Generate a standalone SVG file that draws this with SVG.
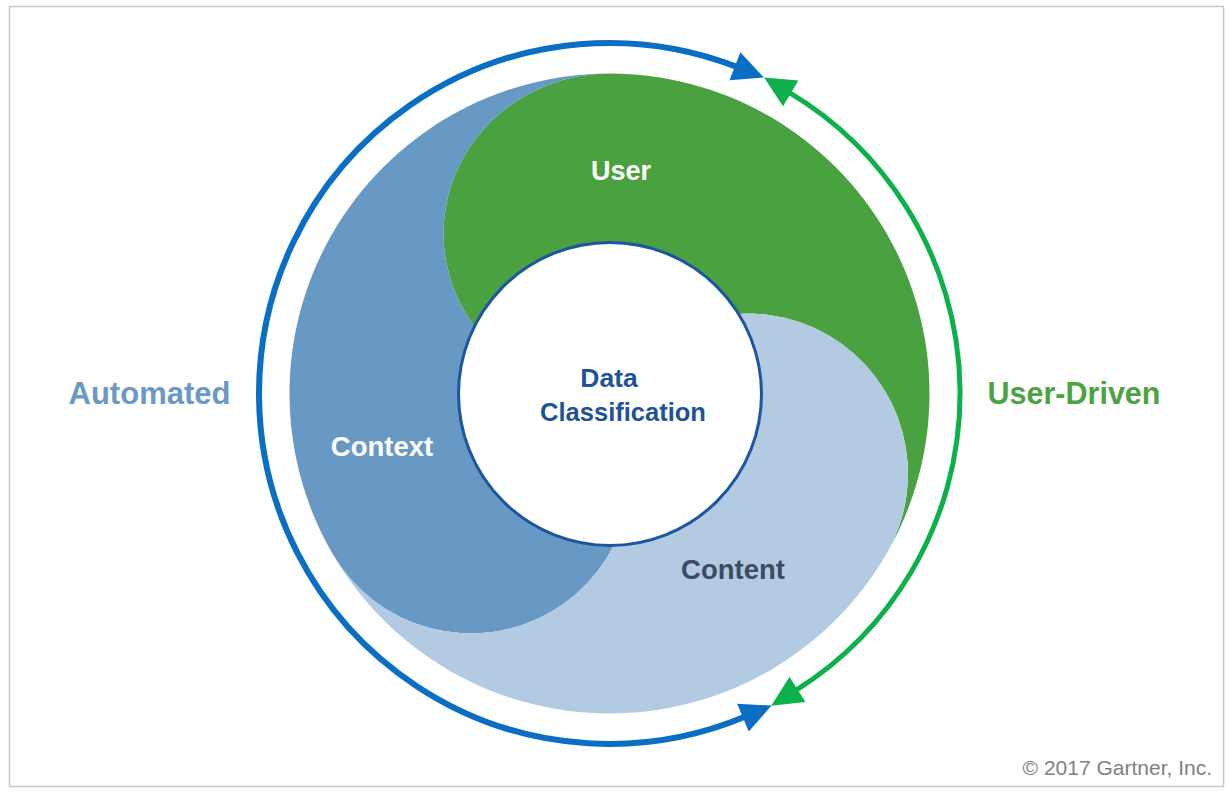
<svg xmlns="http://www.w3.org/2000/svg" width="1230" height="794" viewBox="0 0 1230 794">
<style>
.lbl{font-family:"Liberation Sans",Arial,sans-serif;font-weight:bold;text-anchor:middle}
.w{fill:#ffffff}
</style>
<defs>
<marker id="ahB" markerUnits="userSpaceOnUse" markerWidth="34" markerHeight="34" viewBox="-3 -17 34 34" refX="0" refY="0" orient="auto-start-reverse">
<path d="M-2,-15 L29,0 L-2,15 Z" fill="#0A6EC4"/>
</marker>
<marker id="ahG" markerUnits="userSpaceOnUse" markerWidth="34" markerHeight="34" viewBox="-3 -17 34 34" refX="0" refY="0" orient="auto-start-reverse">
<path d="M-2,-15 L29,0 L-2,15 Z" fill="#0DB14B"/>
</marker>
</defs>
<rect x="0" y="0" width="1230" height="794" fill="#ffffff"/>
<rect x="9.5" y="6.5" width="1214" height="780" fill="none" stroke="#c9c9c9" stroke-width="1.5"/>

<g id="node-user">
<path d="M609.5,73.5 A320,320 0 0 1 886.628,553.5 A160,160 0 0 0 609.5,393.5 A166,160 0 0 1 609.5,73.5 Z" fill="#4AA140"/>
</g>
<g id="node-context">
<path d="M332.372,553.5 A320,320 0 0 1 609.5,73.5 A166,160 0 0 0 609.5,393.5 A160,160 0 0 1 332.372,553.5 Z" fill="#6898C4"/>
</g>
<g id="node-content">
<path d="M886.628,553.5 A320,320 0 0 1 332.372,553.5 A160,160 0 0 0 609.5,393.5 A160,160 0 0 1 886.628,553.5 Z" fill="#B3CBE2"/>
</g>
<g id="node-center">
<circle cx="610" cy="394" r="151.5" fill="#ffffff" stroke="#1C55A0" stroke-width="3"/>
<text class="lbl" x="609" y="387" font-size="26.5" fill="#1F5397">Data</text>
<text class="lbl" x="623" y="421" font-size="25.5" fill="#1F5397">Classification</text>
</g>

<g id="connectors" fill="none">
<path d="M736.8,66.9 A350.5,350.5 0 1 0 744.8,716.8" stroke="#0A6EC4" stroke-width="6" marker-start="url(#ahB)" marker-end="url(#ahB)"/>
<path d="M789,92.4 A350.5,350.5 0 0 1 795.8,690.4" stroke="#0DB14B" stroke-width="5" marker-start="url(#ahG)" marker-end="url(#ahG)"/>
</g>

<g id="labels">
<text class="lbl w" x="621" y="180" font-size="27">User</text>
<text class="lbl w" x="382" y="456" font-size="27.5">Context</text>
<text class="lbl" x="733" y="579" font-size="27.5" fill="#3B4B61">Content</text>
<text class="lbl" x="149.5" y="404" font-size="31" fill="#6A99C6">Automated</text>
<text class="lbl" x="1074" y="404" font-size="30.5" fill="#4CA342">User-Driven</text>
<text x="1212" y="775" font-family="'Liberation Sans',Arial,sans-serif" font-size="21" fill="#808080" text-anchor="end">© 2017 Gartner, Inc.</text>
</g>
</svg>
